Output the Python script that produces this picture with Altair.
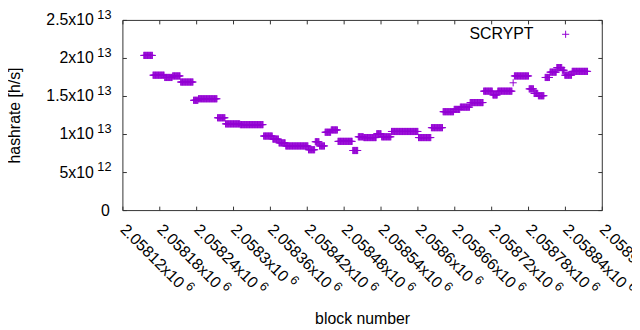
import altair as alt
import pandas as pd

FONT = "Liberation Sans, Arial, sans-serif"
PURPLE = "#9400d3"
FRAME = "#333333"
PLUS = "M-1,0L1,0M0,-1L0,1"

# ---- data ----
BLOCK0 = 2058000
# runs of blocks (offset from BLOCK0) with an estimated hashrate, in 1e12 h/s
seg_start = [154, 169, 188, 201, 214, 235, 243, 274, 287, 311, 349, 364, 374, 385,
             422, 433, 440, 449, 459, 470, 494, 503, 512, 533, 541, 557, 601, 622,
             641, 659, 669, 685, 707, 722, 730, 755, 757, 781, 789, 796, 807, 815,
             826, 835, 839, 851]
seg_end = [168, 187, 200, 213, 234, 242, 273, 286, 310, 348, 363, 373, 384, 421,
           432, 439, 448, 458, 469, 493, 502, 511, 532, 540, 556, 600, 621, 640,
           658, 668, 684, 706, 721, 729, 753, 755, 780, 788, 795, 805, 814, 825,
           834, 838, 850, 876]
seg_value = [20.4, 17.8, 17.5, 17.7, 16.9, 14.5, 14.7, 12.2, 11.4, 11.3, 9.8, 9.4,
             8.9, 8.5, 8.0, 9.05, 8.5, 10.3, 10.6, 9.1, 7.9, 9.7, 9.6, 10.1, 9.7,
             10.4, 9.6, 10.9, 13.0, 13.3, 13.6, 14.2, 15.7, 15.2, 15.7, 16.8, 17.7,
             16.0, 15.4, 15.1, 17.5, 18.2, 18.8, 18.45, 17.8, 18.3]
series_name = "SCRYPT"

x_ticks = [2058120, 2058180, 2058240, 2058300, 2058360, 2058420, 2058480,
           2058540, 2058600, 2058660, 2058720, 2058780, 2058840, 2058900]
x_tick_mantissa = ["2.05812", "2.05818", "2.05824", "2.0583", "2.05836", "2.05842",
                   "2.05848", "2.05854", "2.0586", "2.05866", "2.05872", "2.05878",
                   "2.05884", "2.0589"]
x_tick_exponent = "6"

y_ticks = [0, 5e12, 1e13, 1.5e13, 2e13, 2.5e13]
y_tick_mantissa = ["0", "5", "1", "1.5", "2", "2.5"]
y_tick_exponent = ["", "12", "13", "13", "13", "13"]

x_title = "block number"
y_title = "hashrate [h/s]"

# ---- tables ----
rows = []
for s, e, v in zip(seg_start, seg_end, seg_value):
    for b in range(s, e + 1):
        rows.append({"block": BLOCK0 + b, "hashrate": v * 1e12, "series": series_name})
df = pd.DataFrame(rows)

xt = pd.DataFrame({
    "tick": x_ticks,
    "label": [m + "x10" for m in x_tick_mantissa],
    "exp": [x_tick_exponent] * len(x_ticks),
    "long": [len(m) >= 7 for m in x_tick_mantissa],
})
yt = pd.DataFrame({
    "tick": y_ticks,
    "label": [m + ("x10" if e else "") for m, e in zip(y_tick_mantissa, y_tick_exponent)],
    "exp": y_tick_exponent,
    "zero": [e == "" for e in y_tick_exponent],
})

W, H = 484, 192
FS, FSE = 16, 12.8
TL = 4
xscale = alt.Scale(domain=[2058120, 2058900], nice=False, zero=False)
yscale = alt.Scale(domain=[0, 2.5e13], nice=False, zero=False)

def X(field="tick"):
    return alt.X(f"{field}:Q", scale=xscale, axis=None)

def Y(field="tick"):
    return alt.Y(f"{field}:Q", scale=yscale, axis=None)

points = alt.Chart(df).mark_point(
    shape=PLUS, filled=False, size=52, strokeWidth=1, opacity=1
).encode(
    x=alt.X("block:Q", scale=xscale, axis=None),
    y=alt.Y("hashrate:Q", scale=yscale, axis=None),
    color=alt.Color("series:N", scale=alt.Scale(range=[PURPLE]),
                    legend=alt.Legend(orient="none", legendX=439, legendY=6, title=None,
                                      symbolType=PLUS, symbolSize=52, symbolStrokeWidth=1,
                                      labelAlign="right", labelOffset={"expr": "-40.5"},
                                      labelFont=FONT, labelFontSize=FS, labelColor="black",
                                      labelBaseline="middle", padding=0)),
)

# plot frame and inward tick marks (all four sides, as in the original)
frame = alt.Chart(pd.DataFrame({"f": [0]})).mark_rect(
    fillOpacity=0, stroke=FRAME, strokeWidth=1
).encode(x=alt.value(0), x2=alt.value(W), y=alt.value(0), y2=alt.value(H))
bt = alt.Chart(xt).mark_rule(color=FRAME, strokeWidth=1).encode(
    x=X(), y=alt.value(H), y2=alt.value(H - TL))
tt = alt.Chart(xt).mark_rule(color=FRAME, strokeWidth=1).encode(
    x=X(), y=alt.value(0), y2=alt.value(TL))
lt = alt.Chart(yt).mark_rule(color=FRAME, strokeWidth=1).encode(
    y=Y(), x=alt.value(0), x2=alt.value(TL))
rt = alt.Chart(yt).mark_rule(color=FRAME, strokeWidth=1).encode(
    y=Y(), x=alt.value(W), x2=alt.value(W - TL))

xlab = alt.Chart(xt).mark_text(
    angle=45, align="left", baseline="middle", font=FONT, fontSize=FS, color="black"
).encode(x=X(), y=alt.value(H + 16.5), text="label:N")

def xexp(is_long, dx):
    return alt.Chart(xt).transform_filter(
        alt.datum.long if is_long else ~alt.datum.long
    ).mark_text(
        angle=45, align="left", baseline="middle", font=FONT, fontSize=FSE,
        color="black", dx=dx, dy=-5.5
    ).encode(x=X(), y=alt.value(H + 16.5), text="exp:N")

w_long = (8 * 0.556 + 0.278 + 0.5) * FS + 3.5
w_short = (7 * 0.556 + 0.278 + 0.5) * FS + 3.5

ylab = alt.Chart(yt).transform_filter(~alt.datum.zero).mark_text(
    align="right", baseline="middle", font=FONT, fontSize=FS, color="black"
).encode(y=Y(), x=alt.value(-29.3), text="label:N")
yexp = alt.Chart(yt).transform_filter(~alt.datum.zero).mark_text(
    align="left", baseline="middle", font=FONT, fontSize=FSE, color="black", dy=-5.5
).encode(y=Y(), x=alt.value(-25.8), text="exp:N")
yzero = alt.Chart(yt).transform_filter(alt.datum.zero).mark_text(
    align="right", baseline="middle", font=FONT, fontSize=FS, color="black"
).encode(y=Y(), x=alt.value(-13.3), text="label:N")

# axis titles
titles = pd.DataFrame({"t": [x_title, y_title]})
xtitle = alt.Chart(titles).transform_filter(alt.datum.t == x_title).mark_text(
    align="center", baseline="alphabetic", font=FONT, fontSize=FS, color="black"
).encode(x=alt.value(W / 2), y=alt.value(H + 114), text="t:N")
ytitle = alt.Chart(titles).transform_filter(alt.datum.t == y_title).mark_text(
    align="center", baseline="alphabetic", font=FONT, fontSize=FS, color="black",
    angle=270
).encode(x=alt.value(-104), y=alt.value(H / 2), text="t:N")

chart = alt.layer(
    frame, points, bt, tt, lt, rt, xlab, xexp(True, w_long), xexp(False, w_short),
    ylab, yexp, yzero, xtitle, ytitle
).properties(
    width=W, height=H,
    padding={"left": 116, "top": 11, "right": 30, "bottom": 117},
    autosize=alt.AutoSizeParams(type="none"),
).configure(background="white").configure_view(strokeOpacity=0)

chart.save("out.html", embed_options={"renderer": "svg", "actions": False})
